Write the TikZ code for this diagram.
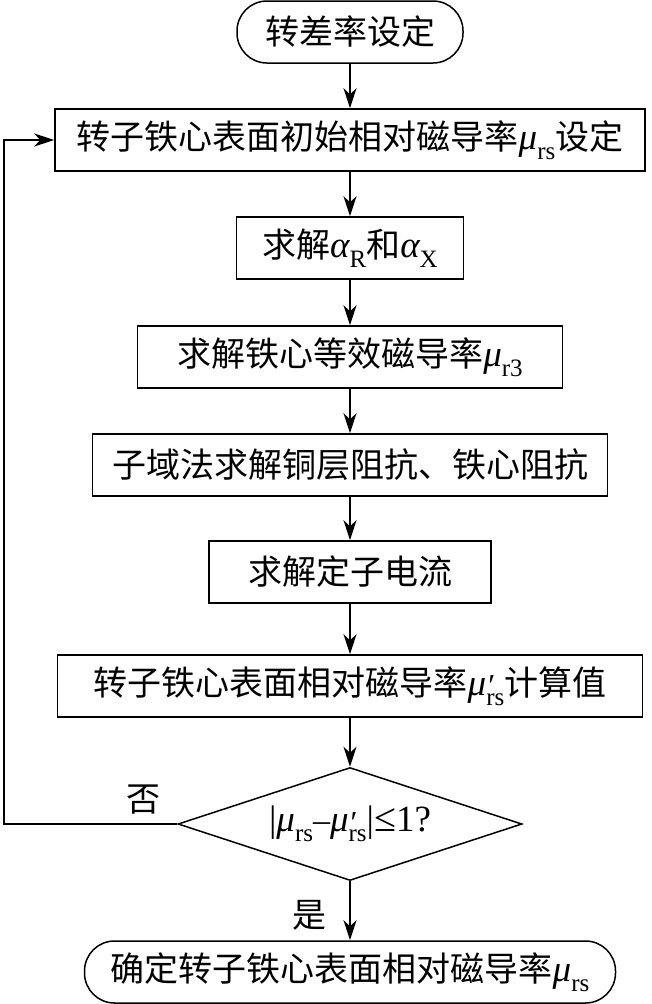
\documentclass[tikz,border=0pt]{standalone}
\usepackage{fontspec}
\setmainfont{Liberation Serif}
\newfontfamily\cjk{Noto Sans CJK SC}
\usetikzlibrary{shapes.geometric,arrows.meta}
\newcommand\sbs[1]{\raisebox{-0.3em}{\fontsize{25}{25}\selectfont #1}}
\newcommand\mymu{{\fontsize{37}{40}\selectfont\itshape μ}}
\newcommand\myal{{\fontsize{37}{40}\selectfont\itshape α}}
\newcommand\prm{\makebox[0pt][l]{\raisebox{-0.05em}{\fontsize{32}{32}\selectfont\itshape ′}}}
\begin{document}
\begin{tikzpicture}[x=1pt,y=-1pt,
  box/.style={draw, line width=1.5pt, minimum height=62pt, inner sep=0pt, fill=white,
    font=\fontsize{34}{40}\selectfont},
  term/.style={box, rounded corners=30pt},
  dec/.style={draw, diamond, aspect=3, line width=1.5pt, minimum width=344pt, minimum height=113pt,
    inner sep=0pt, font=\fontsize{34}{40}\selectfont},
  lbl/.style={inner sep=0pt, font=\fontsize{34}{40}\selectfont\cjk},
  arr/.style={line width=1.5pt, -{Stealth[length=20pt,width=13pt,inset=6pt]}},
  ln/.style={line width=1.5pt}]
\useasboundingbox (0,0) rectangle (651,1004);
\node[term, minimum width=226pt] (t1) at (350,32) {\cjk 转差率设定};
\node[box, minimum width=590pt] (b2) at (350,140) {{\cjk 转子铁心表面初始相对磁导率}\mymu\sbs{rs}{\cjk 设定}};
\node[box, minimum width=227pt] (b3) at (350,248) {{\cjk 求解}\myal\sbs{R}{\cjk 和}\myal\sbs{X}};
\node[box, minimum width=425pt] (b4) at (350,357) {{\cjk 求解铁心等效磁导率}\mymu\sbs{r3}};
\node[box, minimum width=515pt] (b5) at (350,465) {\cjk 子域法求解铜层阻抗、铁心阻抗};
\node[box, minimum width=282pt] (b6) at (350,572) {\cjk 求解定子电流};
\node[box, minimum width=585pt] (b7) at (350,686) {{\cjk 转子铁心表面相对磁导率}\mymu\prm\sbs{rs}{\cjk 计算值}};
\node[dec] (d) at (350,824) {{\fontsize{37}{40}\selectfont|}\mymu\sbs{rs}–\mymu\prm\sbs{rs}{\fontsize{37}{40}\selectfont|}{\fontsize{40}{40}\selectfont ≤}{\fontsize{37}{40}\selectfont 1?}};
\node[term, minimum width=531pt] (t2) at (350,972) {{\cjk 确定转子铁心表面相对磁导率}\mymu\sbs{rs}};
\node[lbl] (no) at (143,800) {否};
\node[lbl] (yes) at (309,915) {是};
\coordinate (lc) at (4,824);
\draw[arr] (t1) -- (b2);
\draw[arr] (b2) -- (b3);
\draw[arr] (b3) -- (b4);
\draw[arr] (b4) -- (b5);
\draw[arr] (b5) -- (b6);
\draw[arr] (b6) -- (b7);
\draw[arr] (b7) -- (d);
\draw[arr] (d) -- (t2);
\draw[arr] (d.west) -- (lc) |- (b2.west);
\end{tikzpicture}
\end{document}
